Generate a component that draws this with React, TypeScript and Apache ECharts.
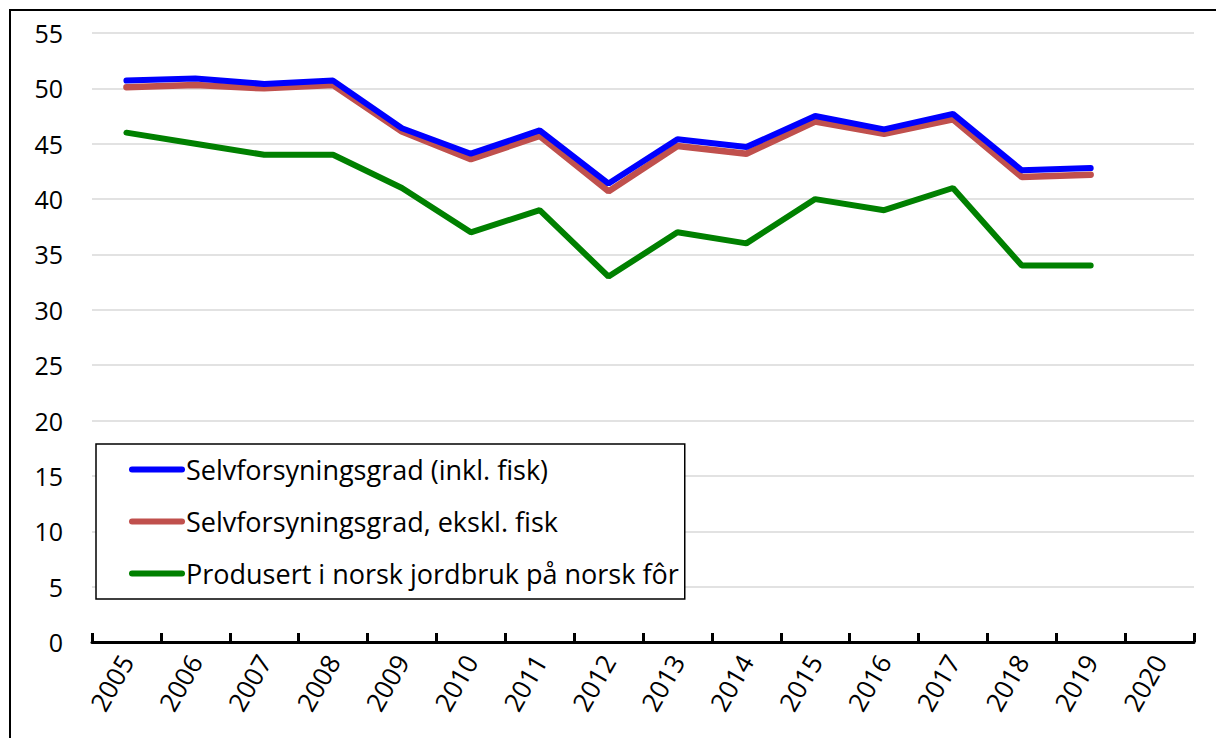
import React, { useEffect, useRef } from "react";
import * as echarts from "echarts";

const years = ["2005","2006","2007","2008","2009","2010","2011","2012","2013","2014","2015","2016","2017","2018","2019","2020"];
const inklFisk = [50.7, 50.9, 50.4, 50.7, 46.4, 44.1, 46.2, 41.4, 45.4, 44.7, 47.5, 46.3, 47.7, 42.6, 42.8];
const eksklFisk = [50.1, 50.3, 50.0, 50.3, 46.1, 43.6, 45.7, 40.7, 44.8, 44.1, 47.0, 45.9, 47.2, 42.0, 42.2];
const norskFor = [46, 45, 44, 44, 41, 37, 39, 33, 37, 36, 40, 39, 41, 34, 34];
const seriesNames = [
  "Selvforsyningsgrad (inkl. fisk)",
  "Selvforsyningsgrad, ekskl. fisk",
  "Produsert i norsk jordbruk på norsk fôr",
];

const FONT = "'Open Sans', Lato, sans-serif";

export default function App() {
  const ref = useRef<HTMLDivElement>(null);
  useEffect(() => {
    document.body.style.margin = "0";
    const chart = echarts.init(ref.current!, null, { renderer: "svg" });
    chart.setOption({
      animation: false,
      backgroundColor: "#fff",
      textStyle: { fontFamily: FONT, color: "#000" },
      grid: { left: 92, right: 22, top: 33, bottom: 96, containLabel: false },
      graphic: [
        {
          type: "rect",
          shape: { x: 10, y: 10, width: 1220, height: 740 },
          style: { fill: "none", stroke: "#000", lineWidth: 2 },
          z: 100,
        },
      ],
      legend: {
        orient: "vertical",
        left: 96,
        top: 444,
        padding: [12, 6, 12, 33],
        itemWidth: 50,
        itemHeight: 24,
        itemGap: 25,
        backgroundColor: "#fff",
        borderColor: "#000",
        borderWidth: 1.5,
        itemStyle: { opacity: 0 },
        lineStyle: { width: 6, cap: "round" },
        textStyle: { fontSize: 27, color: "#000", fontFamily: FONT, padding: [0, 0, 0, -1] },
        data: seriesNames,
      },
      xAxis: {
        type: "category",
        data: years,
        boundaryGap: true,
        axisLine: { show: true, lineStyle: { color: "#000", width: 3 } },
        axisTick: { show: true, interval: 0, inside: true, length: 9, lineStyle: { color: "#000", width: 3 }, alignWithLabel: false },
        axisLabel: { interval: 0, rotate: 60, fontSize: 26, color: "#000", margin: 15, fontFamily: FONT },
        splitLine: { show: false },
      },
      yAxis: {
        type: "value",
        min: 0,
        max: 55,
        interval: 5,
        axisLine: { show: false },
        axisTick: { show: false },
        axisLabel: { fontSize: 25, color: "#000", margin: 29, fontFamily: FONT },
        splitLine: { lineStyle: { color: "#D9D9D9", width: 1.5 } },
      },
      series: [
        {
          name: seriesNames[0],
          type: "line",
          data: inklFisk,
          symbol: "none",
          lineStyle: { color: "#0000FF", width: 6, cap: "round" },
          itemStyle: { color: "#0000FF" },
          z: 3,
        },
        {
          name: seriesNames[1],
          type: "line",
          data: eksklFisk,
          symbol: "none",
          lineStyle: { color: "#C0504D", width: 6.5, cap: "round" },
          itemStyle: { color: "#C0504D" },
          z: 2,
        },
        {
          name: seriesNames[2],
          type: "line",
          data: norskFor,
          symbol: "none",
          lineStyle: { color: "#008000", width: 6, cap: "round" },
          itemStyle: { color: "#008000" },
          z: 2,
        },
      ],
    });
    return () => chart.dispose();
  }, []);
  return <div ref={ref} style={{ width: 1216, height: 738 }} />;
}
